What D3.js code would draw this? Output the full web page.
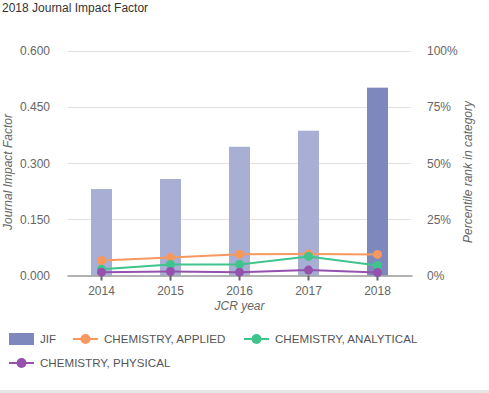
<!DOCTYPE html>
<html>
<head>
<meta charset="utf-8">
<script src="https://cdn.jsdelivr.net/npm/d3@7"></script>
<style>
  body { margin: 0; background: #fff; font-family: Arial, "Liberation Sans", sans-serif; }
</style>
</head>
<body>
<script>
//Width and height
const w = 489;
const h = 393;

// data
var years = ["2014", "2015", "2016", "2017", "2018"];
var jif = [0.231, 0.258, 0.344, 0.387, 0.502];
var applied = [6.7, 8.0, 9.5, 9.6, 9.4];
var analytical = [2.8, 4.9, 4.9, 8.5, 4.5];
var physical = [1.5, 1.8, 1.5, 2.4, 1.3];
var jifTicks = [0, 0.15, 0.3, 0.45, 0.6];
var pctTicks = [0, 25, 50, 75, 100];

var series = [
    {name: "CHEMISTRY, APPLIED", values: applied, color: "#f7985f"},
    {name: "CHEMISTRY, ANALYTICAL", values: analytical, color: "#3fc58c"},
    {name: "CHEMISTRY, PHYSICAL", values: physical, color: "#9452ad"}
];

const plotLeft = 67, plotRight = 412, plotTop = 51, plotBottom = 275.5;

const svg = d3.select("body")
            .append("svg")
            .attr("width", w)
            .attr("height", h)
            .attr("font-family", "Arial, 'Liberation Sans', sans-serif");

var xScale = d3.scaleBand()
                .domain(years)
                .range([plotLeft, plotRight]);

var yScale = d3.scaleLinear()
                .domain([0, 0.6])
                .range([plotBottom, plotTop]);

var pScale = d3.scaleLinear()
                .domain([0, 100])
                .range([plotBottom, plotTop]);

//Title
svg.append("text")
    .attr("x", 2)
    .attr("y", 12)
    .attr("font-size", "12px")
    .attr("fill", "#333")
    .text("2018 Journal Impact Factor");

//Gridlines
svg.selectAll("line.grid")
    .data(jifTicks.slice(1))
    .join("line")
    .attr("class", "grid")
    .attr("x1", plotLeft + 1)
    .attr("x2", plotRight - 1)
    .attr("y1", (d) => Math.round(yScale(d)) + 0.5)
    .attr("y2", (d) => Math.round(yScale(d)) + 0.5)
    .attr("stroke", "#e0e0e6")
    .attr("stroke-width", 1);

//Left axis labels
svg.append("g")
    .attr("transform", "translate(" + (plotLeft - 14) + ",0)")
    .call(d3.axisLeft(yScale).tickValues(jifTicks).tickFormat(d3.format(".3f")).tickSize(0))
    .call((g) => g.select(".domain").remove())
    .call((g) => g.selectAll("text").attr("fill", "#666").attr("font-size", "12px").attr("font-family", null));

//Right axis labels
svg.append("g")
    .attr("transform", "translate(" + (plotRight + 15) + ",0)")
    .call(d3.axisRight(pScale).tickValues(pctTicks).tickFormat((d) => d + "%").tickSize(0))
    .call((g) => g.select(".domain").remove())
    .call((g) => g.selectAll("text").attr("fill", "#666").attr("font-size", "12px").attr("font-family", null).attr("x", 0));

//Bars
svg.selectAll("rect.bar")
    .data(jif)
    .join("rect")
    .attr("class", "bar")
    .attr("x", (d, i) => xScale(years[i]) + xScale.bandwidth() / 2 - 10.5)
    .attr("y", (d) => yScale(d))
    .attr("width", 21)
    .attr("height", (d) => plotBottom - yScale(d))
    .attr("fill", (d, i) => i == years.length - 1 ? "#7f88bd" : "#a9afd4");

//Bottom axis
svg.append("g")
    .attr("transform", "translate(0," + plotBottom + ")")
    .call(d3.axisBottom(xScale).tickSize(5).tickPadding(6).tickSizeOuter(0))
    .call((g) => g.select(".domain").attr("stroke", "#999").attr("stroke-width", 1.5))
    .call((g) => g.selectAll(".tick line").attr("stroke", "#666").attr("stroke-width", 2))
    .call((g) => g.selectAll("text").attr("fill", "#666").attr("font-size", "12px").attr("font-family", null));

//Lines
var line = d3.line()
    .x((d, i) => xScale(years[i]) + xScale.bandwidth() / 2)
    .y((d) => pScale(d));

series.forEach(function(s) {
    svg.append("path")
        .datum(s.values)
        .attr("d", line)
        .attr("fill", "none")
        .attr("stroke", s.color)
        .attr("stroke-width", 2);
    svg.append("g")
        .selectAll("circle")
        .data(s.values)
        .join("circle")
        .attr("cx", (d, i) => xScale(years[i]) + xScale.bandwidth() / 2)
        .attr("cy", (d) => pScale(d))
        .attr("r", 4.5)
        .attr("fill", s.color);
});

//Axis titles
svg.append("text")
    .attr("x", (plotLeft + plotRight) / 2)
    .attr("y", 310)
    .attr("text-anchor", "middle")
    .attr("font-size", "12px")
    .attr("font-style", "italic")
    .attr("fill", "#666")
    .text("JCR year");

svg.append("text")
    .attr("transform", "translate(12,172) rotate(-90)")
    .attr("text-anchor", "middle")
    .attr("font-size", "12px")
    .attr("font-style", "italic")
    .attr("fill", "#666")
    .text("Journal Impact Factor");

svg.append("text")
    .attr("transform", "translate(472,172) rotate(-90)")
    .attr("text-anchor", "middle")
    .attr("font-size", "12px")
    .attr("font-style", "italic")
    .attr("fill", "#666")
    .text("Percentile rank in category");

//Legend
var legend = [
    {name: "JIF", color: "#7f88bd", x: 9, y: 339, bar: true},
    {name: series[0].name, color: series[0].color, x: 73, y: 339},
    {name: series[1].name, color: series[1].color, x: 244, y: 339},
    {name: series[2].name, color: series[2].color, x: 9, y: 363}
];

var lg = svg.selectAll("g.legend")
    .data(legend)
    .join("g")
    .attr("class", "legend")
    .attr("transform", (d) => "translate(" + d.x + "," + d.y + ")");

lg.filter((d) => d.bar)
    .append("rect")
    .attr("x", 0).attr("y", -6).attr("width", 25).attr("height", 12)
    .attr("fill", (d) => d.color);

lg.filter((d) => !d.bar)
    .append("line")
    .attr("x1", 0).attr("x2", 25)
    .attr("stroke", (d) => d.color)
    .attr("stroke-width", 2);

lg.filter((d) => !d.bar)
    .append("circle")
    .attr("cx", 12.5).attr("r", 5)
    .attr("fill", (d) => d.color);

lg.append("text")
    .attr("x", 31)
    .attr("dy", "0.35em")
    .attr("font-size", "11.6px")
    .attr("fill", "#555")
    .text((d) => d.name);

//Bottom border
svg.append("rect")
    .attr("x", 0).attr("y", 390).attr("width", w).attr("height", 3)
    .attr("fill", "#e6e6e6");
</script>
</body>
</html>
